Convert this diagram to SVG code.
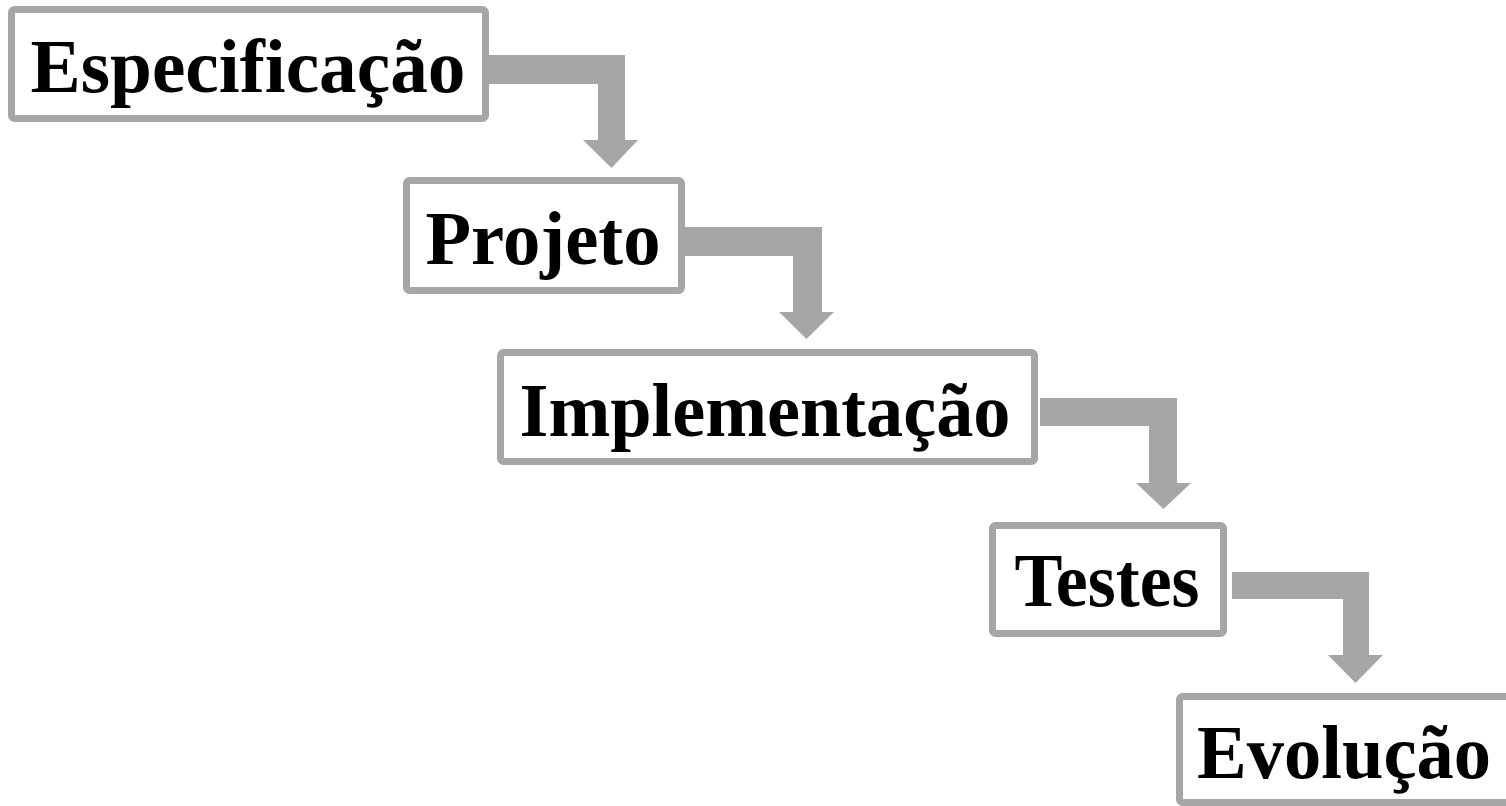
<svg xmlns="http://www.w3.org/2000/svg" width="1506" height="806" viewBox="0 0 1506 806">
<style>
.box{fill:#ffffff;stroke:#a6a6a6;stroke-width:7}
.lbl{font-family:"Liberation Serif","Times New Roman",serif;font-weight:bold;font-size:77px;fill:#000;text-anchor:middle}
.arr{fill:#a6a6a6;stroke:none}
</style>
<rect width="1506" height="806" fill="#ffffff"/>
<g id="connectors">
<path class="arr" d="M489,55 H625 V140 H638 L611.5,168 L583,140 H598 V84 H489 Z"/>
<path class="arr" d="M685,227 H822 V312 H834 L806.5,339 L779,312 H793 V256 H685 Z"/>
<path class="arr" d="M1040,398 H1177 V483 H1191 L1163.5,509 L1136,483 H1149 V426 H1040 Z"/>
<path class="arr" d="M1232,572 H1369 V655 H1383 L1355.5,683 L1328,655 H1343 V599 H1232 Z"/>
</g>
<g id="especificacao">
<rect class="box" x="11.5" y="9.5" width="474" height="109" rx="3"/>
<text class="lbl" x="248" y="92" textLength="435" lengthAdjust="spacingAndGlyphs">Especificação</text>
</g>
<g id="projeto">
<rect class="box" x="406.5" y="180.5" width="275" height="110" rx="3"/>
<text class="lbl" x="543" y="264" textLength="235" lengthAdjust="spacingAndGlyphs">Projeto</text>
</g>
<g id="implementacao">
<rect class="box" x="500.5" y="352.5" width="534" height="109" rx="3"/>
<text class="lbl" x="765" y="436" textLength="491" lengthAdjust="spacingAndGlyphs">Implementação</text>
</g>
<g id="testes">
<rect class="box" x="992.5" y="525.5" width="231" height="108" rx="3"/>
<text class="lbl" x="1107" y="606" textLength="185" lengthAdjust="spacingAndGlyphs">Testes</text>
</g>
<g id="evolucao">
<rect class="box" x="1179.5" y="696.5" width="340" height="106" rx="3"/>
<text class="lbl" x="1344" y="778" textLength="294" lengthAdjust="spacingAndGlyphs">Evolução</text>
</g>
</svg>
